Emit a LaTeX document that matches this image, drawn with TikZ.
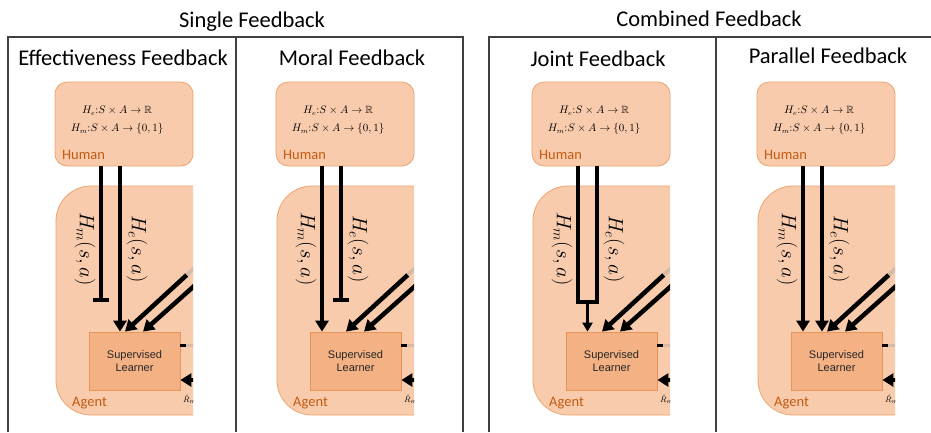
\documentclass[tikz,border=0pt]{standalone}
\usepackage{fontspec}
\usepackage{amssymb}
\setmainfont{Carlito}
\newfontfamily\slfont{Liberation Sans}
\usetikzlibrary{arrows.meta}

\definecolor{agentfill}{HTML}{F8CBAD}
\definecolor{agentline}{HTML}{EFA46E}
\definecolor{slfill}{HTML}{F4B183}
\definecolor{slline}{HTML}{E9955A}
\definecolor{agenttext}{HTML}{C55A11}
\definecolor{fadeline}{HTML}{D8BBA6}

\tikzset{
  frameline/.style={line width=1.2pt,draw=black!75},
  grouptitle/.style={anchor=base,font=\fontsize{22.5}{27}\selectfont},
  humbox/.style={draw=agentline,fill=agentfill,line width=0.8pt,rounded corners=12pt,minimum width=138pt,minimum height=84pt},
  agentbox/.style={draw=agentline,fill=agentfill,line width=0.8pt,rounded corners=35pt},
  slbox/.style={draw=slline,fill=slfill,line width=0.8pt,minimum width=91pt,minimum height=58pt,align=center,font=\slfont\fontsize{11}{13}\selectfont,text=black!85},
  rolelabel/.style={anchor=west,text=agenttext,font=\fontsize{14.5}{16}\selectfont,inner sep=0pt},
  formula/.style={font=\fontsize{10.5}{12}\selectfont,inner sep=0pt},
  sigmalabel/.style={rotate=-90,font=\fontsize{22}{24}\selectfont,inner sep=0pt},
  thickline/.style={line width=4.5pt},
  headarrow/.style={-{Triangle[length=11pt,width=13pt]}},
  bararrow/.style={-{Bar[width=16pt,line width=4pt]}},
  faded/.style={draw=fadeline,line width=4pt},
}

\begin{document}
\begin{tikzpicture}[x=1pt,y=-1pt]
\useasboundingbox[fill=white] (0,0) rectangle (931,432);

% group frames
\draw[frameline] (8,432) -- (8,37) -- (463,37) -- (463,432);
\draw[frameline] (236,37) -- (236,432);
\draw[frameline] (489,432) -- (489,37) -- (935,37);
\draw[frameline] (716,37) -- (716,432);

\node[grouptitle] (single) at (252,27) {Single Feedback};
\node[grouptitle] (combined) at (709,26) {Combined Feedback};
\node[grouptitle] (efftitle) at (123,65) {Effectiveness Feedback};
\node[grouptitle] (mortitle) at (352,65) {Moral Feedback};
\node[grouptitle] (joititle) at (598,66) {Joint Feedback};
\node[grouptitle] (partitle) at (828,63) {Parallel Feedback};

% one panel per feedback type
\foreach \nm/\ox in {eff/0,mor/221,joi/477,par/702}{
  \begin{scope}[xshift=\ox pt]
    \node[humbox] (\nm-hum) at (124,124) {};
    \node[formula] (\nm-he) at (117,111) {$H_e{:}S\times A\to\mathbb{R}$};
    \node[formula] (\nm-hm) at (117,129) {$H_m{:}S\times A\to\{0,1\}$};
    \node[rolelabel] (\nm-hl) at (62,155) {Human};
    \coordinate (\nm-m) at (101,0);
    \coordinate (\nm-e) at (120,0);
    \coordinate (\nm-mbar) at (101,302);
    \coordinate (\nm-ebar) at (120,302);
    \coordinate (\nm-join) at (110.5,302);
    \begin{scope}
      \clip (0,0) rectangle (193,432);
      \draw[agentbox] (56,186) rectangle (280,415);
      \node[rolelabel] (\nm-al) at (72,403) {Agent};
      \node[slbox] (\nm-sl) at (134.5,361) {Supervised\\Learner};
      \coordinate (\nm-a0) at (186.7,275);
      \coordinate (\nm-a1) at (202,261);
      \coordinate (\nm-at) at (125,0);
      \coordinate (\nm-b0) at (202,279);
      \coordinate (\nm-bt) at (143,0);
      \coordinate (\nm-s1) at (186,345);
      \coordinate (\nm-s2) at (202,345);
      \coordinate (\nm-r0) at (202,380);
      \draw[faded] (\nm-a0) -- (\nm-a1);
      \draw[thickline,headarrow] (\nm-a0) -- (\nm-sl.north -| \nm-at);
      \draw[thickline,headarrow] (\nm-b0) -- (\nm-sl.north -| \nm-bt);
      \draw[faded,line width=3pt] (\nm-s1) -- (\nm-s2);
      \draw[line width=3pt] (\nm-sl.east |- \nm-s1) -- (\nm-s1);
      \draw[thickline,headarrow] (\nm-r0) -- (\nm-sl.east |- \nm-r0);
      \node[anchor=west,inner sep=0pt,font=\fontsize{8}{9}\selectfont] (\nm-rh) at (183,399) {$\hat{R}_m$};
    \end{scope}
    \node[sigmalabel] (\nm-lm) at (85,249) {$H_m(s,a)$};
    \node[sigmalabel] (\nm-le) at (137,249) {$H_e(s,a)$};
  \end{scope}
}

% effectiveness: moral signal blocked
\draw[thickline,bararrow] (eff-hum.south -| eff-m) -- (eff-mbar);
\draw[thickline,headarrow] (eff-hum.south -| eff-e) -- (eff-sl.north -| eff-e);
% moral: effectiveness signal blocked
\draw[thickline,headarrow] (mor-hum.south -| mor-m) -- (mor-sl.north -| mor-m);
\draw[thickline,bararrow] (mor-hum.south -| mor-e) -- (mor-ebar);
% joint
\draw[thickline,line join=miter] (joi-hum.south -| joi-m) -- (joi-mbar) -- (joi-ebar) -- (joi-hum.south -| joi-e);
\draw[line width=2.5pt,-{Triangle[length=9pt,width=10pt]}] (joi-join) -- (joi-sl.north -| joi-join);
% parallel
\draw[thickline,headarrow] (par-hum.south -| par-m) -- (par-sl.north -| par-m);
\draw[thickline,headarrow] (par-hum.south -| par-e) -- (par-sl.north -| par-e);
\end{tikzpicture}
\end{document}
